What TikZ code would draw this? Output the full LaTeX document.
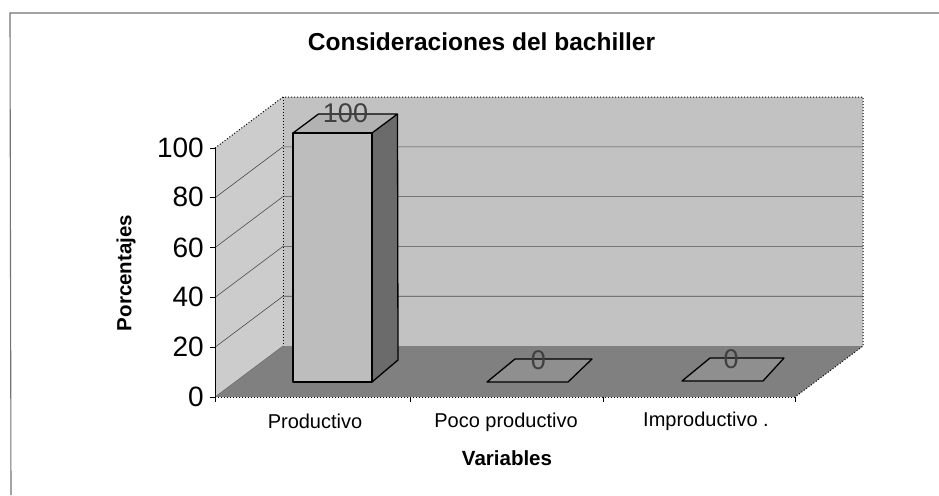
\documentclass[tikz,border=0pt]{standalone}
\usepackage{fontspec}
\setmainfont{Liberation Sans}
\begin{document}
\begin{tikzpicture}[x=1pt,y=-1pt,
  frame/.style={draw=black!55,line width=1.1pt},
  wallfill/.style={fill=black!24},
  sidefill/.style={fill=black!20},
  floorfill/.style={fill=black!50},
  dotedge/.style={draw=black,dotted,line width=1pt},
  grid/.style={draw=black!70,line width=0.6pt},
  axisline/.style={draw=black,line width=0.8pt},
  barline/.style={draw=black,line width=1.3pt,line join=round},
  ticklbl/.style={font=\fontsize{28}{31}\selectfont,anchor=east,inner sep=0pt},
  catlbl/.style={font=\fontsize{20}{24}\selectfont,anchor=base,inner sep=0pt},
  titlelbl/.style={font=\fontsize{24.5}{28}\selectfont\bfseries,anchor=base,inner sep=0pt},
  axtitle/.style={font=\fontsize{20.5}{24}\selectfont\bfseries,anchor=base,inner sep=0pt},
  vallbl/.style={font=\fontsize{27}{30}\selectfont,text=black!75,inner sep=0pt}
]
\useasboundingbox (0,0) rectangle (939,495);
\fill[white] (0,0) rectangle (939,495);

% outer frame (top and left only)
\coordinate (frTL) at (10,13);
\coordinate (frTR) at (939,13);
\coordinate (frBL) at (11,495);
\draw[frame] (frTR) -- (frTL) -- (frBL);

% chart corners
\coordinate (F0) at (215,397);
\coordinate (F100) at (215,148);
\coordinate (B0) at (283,346);
\coordinate (B100) at (283,97);
\coordinate (BR100) at (863,97);
\coordinate (BR0) at (863,346);
\coordinate (FR0) at (795,397);

% walls
\path[wallfill] (B100) -- (BR100) -- (BR0) -- (B0) -- cycle;
\path[sidefill] (F100) -- (B100) -- (B0) -- (F0) -- cycle;

% gridlines
\foreach \v in {20,40,60,80} {
  \pgfmathsetmacro{\yf}{397-\v*2.49}
  \pgfmathsetmacro{\yb}{346-\v*2.49}
  \draw[grid] (215,\yf) -- (283,\yb) -- (863,\yb);
}

% floor
\path[floorfill] (F0) -- (B0) -- (BR0) -- (FR0) -- cycle;

% dotted wall edges
\draw[dotedge] (F100) -- (B100) -- (BR100) -- (BR0) -- (FR0);
\draw[dotedge] (B100) -- (B0);
\draw[dotedge] (F0) -- (FR0);
\draw[draw=black!60,line width=0.5pt] (F0) -- (B0);

% value axis
\draw[axisline] (F100) -- (F0);
\foreach \v in {0,20,40,60,80,100} {
  \pgfmathsetmacro{\yy}{397-\v*2.49}
  \draw[axisline] (210,\yy) -- (215,\yy);
}
\node[ticklbl] (t100) at (204,148) {100};
\node[ticklbl] (t80) at (204,197.2) {80};
\node[ticklbl] (t60) at (204,247.4) {60};
\node[ticklbl] (t40) at (204,296.6) {40};
\node[ticklbl] (t20) at (204,346.8) {20};
\node[ticklbl] (t0) at (204,397) {0};

% category axis ticks
\foreach \xx in {215,410,603,795} {
  \draw[axisline] (\xx,397) -- (\xx,402);
}

% bar 1 (Productivo, 100)
\coordinate (b1a) at (293,382);
\coordinate (b1b) at (372,382);
\coordinate (b1c) at (372,133);
\coordinate (b1d) at (293,133);
\coordinate (b1e) at (318.5,114);
\coordinate (b1f) at (397.5,114);
\coordinate (b1g) at (398,360);
\path[fill=black!58] (b1b) -- (b1c) -- (b1f) -- (b1g) -- cycle;
\path[fill=black!30] (b1d) -- (b1c) -- (b1f) -- (b1e) -- cycle;
\path[fill=black!26] (b1a) rectangle (b1c);
\draw[barline] (b1a) -- (b1b) -- (b1c) -- (b1d) -- cycle;
\draw[barline] (b1d) -- (b1e) -- (b1f) -- (b1c);
\draw[barline] (b1f) -- (b1g) -- (b1b);
\node[vallbl] (v1) at (345.5,113) {100};

% bar 2 (Poco productivo, 0)
\coordinate (b2a) at (487,382);
\coordinate (b2b) at (568,382);
\coordinate (b2c) at (592,359);
\coordinate (b2d) at (515,359);
\draw[barline,fill=black!44] (b2a) -- (b2b) -- (b2c) -- (b2d) -- cycle;
\node[vallbl] (v2) at (538.5,360) {0};

% bar 3 (Improductivo, 0)
\coordinate (b3a) at (682,381);
\coordinate (b3b) at (763,381);
\coordinate (b3c) at (784,358);
\coordinate (b3d) at (710,358);
\draw[barline,fill=black!44] (b3a) -- (b3b) -- (b3c) -- (b3d) -- cycle;
\node[vallbl] (v3) at (731,359) {0};

% category labels
\node[catlbl] (c1) at (315,428) {Productivo};
\node[catlbl] (c2) at (506,427) {Poco productivo};
\node[catlbl,anchor=base west] (c3) at (643,426) {Improductivo .};

% titles
\node[titlelbl] (title) at (481.5,51) {Consideraciones del bachiller};
\node[axtitle] (xtitle) at (507,465) {Variables};
\node[font=\fontsize{20.5}{24}\selectfont\bfseries,rotate=90,inner sep=0pt] (ytitle) at (126,273) {Porcentajes};
\end{tikzpicture}
\end{document}
